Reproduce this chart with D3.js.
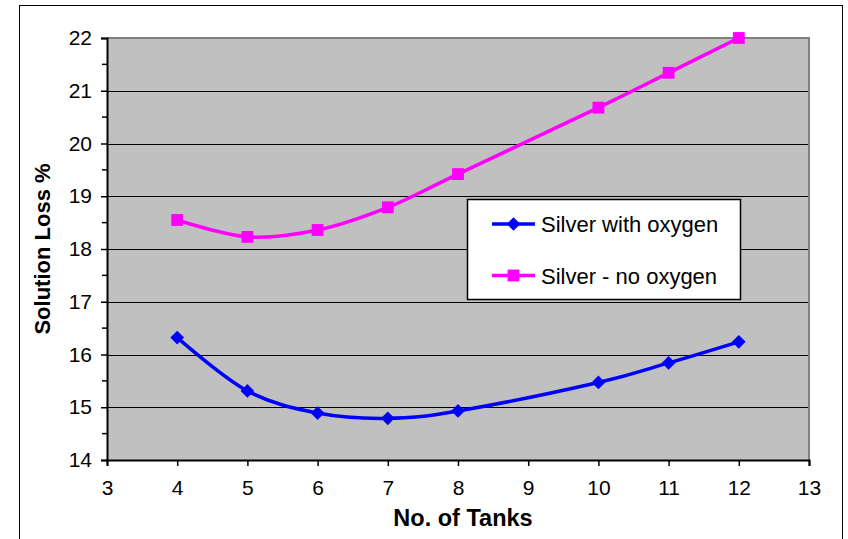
<!DOCTYPE html>
<html>
<head>
<meta charset="utf-8">
<script src="https://cdn.jsdelivr.net/npm/d3@7"></script>
<style>
  body { margin: 0; background: #fff; }
  svg { display: block; font-family: "Liberation Sans", Arial, sans-serif; }
</style>
</head>
<body>
<div id="chart"></div>
<script>
// ─── DATA ─────────────────────────────────────────────────────────────────────
const tanks = [4, 5, 6, 7, 8, 10, 11, 12];
const withOxygen = [16.32, 15.31, 14.89, 14.79, 14.93, 15.47, 15.84, 16.24];
const noOxygen = [18.55, 18.23, 18.36, 18.79, 19.42, 20.68, 21.34, 22.0];
const xTicks = [3, 4, 5, 6, 7, 8, 9, 10, 11, 12, 13];
const yTicks = [14, 15, 16, 17, 18, 19, 20, 21, 22];
const yMinorTicks = [14.5, 15.5, 16.5, 17.5, 18.5, 19.5, 20.5, 21.5];

const series = [
  { name: "Silver with oxygen", values: withOxygen, color: "#0000ff", marker: "diamond" },
  { name: "Silver - no oxygen", values: noOxygen, color: "#ff00ff", marker: "square" }
];

// ─── LAYOUT ───────────────────────────────────────────────────────────────────
const W = 848, H = 539;
const plot = { left: 107, top: 38, right: 809, bottom: 460 };

const svg = d3.select("#chart").append("svg")
  .attr("width", W)
  .attr("height", H);

// outer chart frame
svg.append("rect")
  .attr("x", 19.5).attr("y", 5.5)
  .attr("width", 823).attr("height", 560)
  .attr("fill", "#fff")
  .attr("stroke", "#000")
  .attr("stroke-width", 1);

const x = d3.scaleLinear().domain([3, 13]).range([plot.left, plot.right]);
const y = d3.scaleLinear().domain([14, 22]).range([plot.bottom, plot.top]);

// plot area background
svg.append("rect")
  .attr("x", plot.left).attr("y", plot.top)
  .attr("width", plot.right - plot.left)
  .attr("height", plot.bottom - plot.top)
  .attr("fill", "#c0c0c0");

// gridlines
svg.append("g")
  .selectAll("line")
  .data(yTicks.slice(1, -1))
  .join("line")
  .attr("x1", plot.left).attr("x2", plot.right)
  .attr("y1", d => Math.round(y(d)) + 0.5)
  .attr("y2", d => Math.round(y(d)) + 0.5)
  .attr("stroke", "#000")
  .attr("stroke-width", 1);

// top / right border of plot area
svg.append("path")
  .attr("d", `M${plot.left},${plot.top}H${plot.right}V${plot.bottom}`)
  .attr("fill", "none")
  .attr("stroke", "#808080")
  .attr("stroke-width", 2);

// y axis
const yAxis = svg.append("g")
  .attr("transform", `translate(${plot.left},0)`)
  .call(d3.axisLeft(y).tickValues(yTicks).tickSize(6).tickPadding(9).tickFormat(d3.format("d")));
yAxis.select(".domain").attr("stroke", "#000").attr("stroke-width", 2);
yAxis.selectAll(".tick line").attr("stroke", "#000").attr("stroke-width", 1.5);
yAxis.selectAll("text").style("font-size", "21px").attr("fill", "#000");

svg.append("g")
  .selectAll("line")
  .data(yMinorTicks)
  .join("line")
  .attr("x1", plot.left - 5).attr("x2", plot.left)
  .attr("y1", d => y(d)).attr("y2", d => y(d))
  .attr("stroke", "#000")
  .attr("stroke-width", 1.5);

// x axis
const xAxis = svg.append("g")
  .attr("transform", `translate(0,${plot.bottom})`)
  .call(d3.axisBottom(x).tickValues(xTicks).tickSize(6).tickPadding(14).tickFormat(d3.format("d")));
xAxis.select(".domain").attr("stroke", "#000").attr("stroke-width", 2);
xAxis.selectAll(".tick line").attr("stroke", "#000").attr("stroke-width", 1.5);
xAxis.selectAll("text").style("font-size", "21px").attr("fill", "#000");

// axis titles
svg.append("text")
  .attr("x", 463).attr("y", 526)
  .attr("text-anchor", "middle")
  .style("font-size", "23.5px")
  .style("font-weight", "bold")
  .text("No. of Tanks");

svg.append("text")
  .attr("transform", "translate(50,249) rotate(-90)")
  .attr("text-anchor", "middle")
  .style("font-size", "22px")
  .style("font-weight", "bold")
  .text("Solution Loss %");

// ─── SERIES ───────────────────────────────────────────────────────────────────
const line = d3.line()
  .x(d => x(d[0]))
  .y(d => y(d[1]))
  .curve(d3.curveCardinal.tension(0));

const markerPath = {
  diamond: d3.symbol().type(d3.symbolDiamond2).size(120)(),
  square: d3.symbol().type(d3.symbolSquare).size(140)()
};

series.forEach(s => {
  const pts = tanks.map((t, i) => [t, s.values[i]]);
  svg.append("path")
    .datum(pts)
    .attr("d", line)
    .attr("fill", "none")
    .attr("stroke", s.color)
    .attr("stroke-width", 3.5);

  svg.append("g")
    .selectAll("path")
    .data(pts)
    .join("path")
    .attr("transform", d => `translate(${x(d[0])},${y(d[1])})`)
    .attr("d", markerPath[s.marker])
    .attr("fill", s.color);
});

// ─── LEGEND ───────────────────────────────────────────────────────────────────
const legend = svg.append("g");
legend.append("rect")
  .attr("x", 467.5).attr("y", 199.5)
  .attr("width", 273).attr("height", 100)
  .attr("fill", "#fff")
  .attr("stroke", "#000")
  .attr("stroke-width", 1.5);

const rows = legend.selectAll("g.row")
  .data(series)
  .join("g")
  .attr("class", "row")
  .attr("transform", (d, i) => `translate(0,${224 + i * 51.5})`);

rows.append("line")
  .attr("x1", 492).attr("x2", 535)
  .attr("stroke", d => d.color)
  .attr("stroke-width", 3.5);

rows.append("path")
  .attr("transform", "translate(513.5,0)")
  .attr("d", d => markerPath[d.marker])
  .attr("fill", d => d.color);

rows.append("text")
  .attr("x", 541).attr("y", 8)
  .style("font-size", "22px")
  .text(d => d.name);
</script>
</body>
</html>
